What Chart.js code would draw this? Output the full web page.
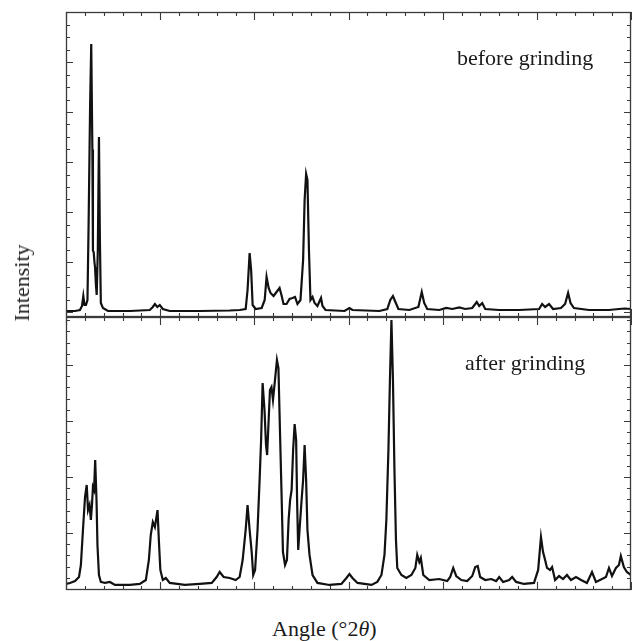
<!DOCTYPE html>
<html>
<head>
<meta charset="utf-8">
<script src="https://cdn.jsdelivr.net/npm/chart.js@4/dist/chart.umd.min.js"></script>
<style>
  html, body { margin: 0; padding: 0; background: #fff; }
  #wrap { position: relative; width: 632px; height: 641px; overflow: hidden; background: #fff; }
  canvas { position: absolute; left: 0; }
  .lbl { position: absolute; font-family: "Liberation Serif", "Times New Roman", serif; font-size: 22px; color: #1a1a1a; white-space: nowrap; line-height: 1; }
</style>
</head>
<body>
<div id="wrap">
  <canvas id="cTop" width="632" height="330" style="top:0px"></canvas>
  <canvas id="cBot" width="632" height="300" style="top:300px"></canvas>
  <div class="lbl" id="tBefore" style="left:457px; top:47px;">before grinding</div>
  <div class="lbl" id="tAfter" style="left:465px; top:352px;">after grinding</div>
  <div class="lbl" id="tX" style="left:272px; top:618px;">Angle (°2<i>θ</i>)</div>
  <div class="lbl" id="tY" style="left:22px; top:283px; transform: translate(-50%,-50%) rotate(-90deg);">Intensity</div>
</div>
<script>
// ---- data (angle in °2θ, intensity in arbitrary units) ----
const angleBefore = [5.00,5.48,5.74,5.85,5.92,5.98,6.06,6.14,6.20,6.28,6.34,6.40,6.43,6.47,6.51,6.54,6.59,6.63,6.69,6.75,6.80,6.85,6.96,7.23,8.39,9.45,9.61,9.72,9.85,9.98,10.14,10.51,12.10,13.69,14.22,14.54,14.64,14.75,14.83,14.91,15.07,15.39,15.55,15.65,15.76,15.86,16.02,16.18,16.34,16.44,16.55,16.71,16.87,17.03,17.16,17.29,17.45,17.59,17.67,17.75,17.82,17.90,17.98,18.09,18.20,18.35,18.54,18.62,18.78,19.79,20.05,20.21,21.64,22.06,22.22,22.36,22.49,22.65,23.23,23.71,23.89,24.02,24.18,24.82,25.19,25.51,25.88,26.20,26.57,26.81,26.94,27.10,27.26,28.00,29.06,30.12,30.28,30.44,30.65,30.86,31.28,31.50,31.66,31.79,31.97,32.77,33.83,34.36,34.68,35.00];
const intensityBefore = [0.08,0.08,0.16,0.48,1.28,0.56,0.56,0.96,7.0,16.5,21.44,13.0,4.9,4.8,4.0,3.6,2.16,1.36,4.96,14.0,5.76,0.72,0.32,0.08,0.08,0.16,0.40,0.64,0.40,0.56,0.24,0.08,0.08,0.12,0.16,0.24,1.76,4.72,3.36,0.56,0.24,0.32,0.96,2.80,1.92,1.52,1.28,1.60,1.92,1.36,0.64,0.64,1.04,1.12,1.20,0.64,0.96,4.16,8.96,11.04,10.56,4.96,0.96,1.20,0.72,0.48,1.12,0.48,0.16,0.08,0.32,0.16,0.08,0.24,0.96,1.28,0.80,0.24,0.16,0.40,1.60,0.72,0.24,0.16,0.32,0.24,0.36,0.24,0.32,0.80,0.48,0.72,0.24,0.16,0.16,0.24,0.64,0.40,0.64,0.24,0.32,0.64,1.52,0.72,0.32,0.16,0.16,0.24,0.28,0.24];

const angleAfter = [5.00,5.21,5.48,5.69,5.79,5.90,6.01,6.10,6.17,6.25,6.32,6.38,6.43,6.49,6.55,6.62,6.67,6.75,6.85,7.07,7.33,7.60,8.39,8.92,9.24,9.40,9.50,9.61,9.72,9.86,9.93,10.01,10.14,10.30,10.51,11.31,12.10,12.74,13.00,13.16,13.37,13.69,14.01,14.22,14.38,14.54,14.64,14.75,14.86,14.94,15.04,15.17,15.28,15.36,15.44,15.54,15.62,15.68,15.76,15.83,15.91,15.99,16.07,16.20,16.28,16.36,16.44,16.52,16.63,16.73,16.82,16.90,16.98,17.06,17.14,17.22,17.27,17.33,17.40,17.51,17.59,17.67,17.75,17.82,17.93,18.09,18.35,18.99,19.62,19.89,20.05,20.21,20.48,21.22,21.53,21.75,21.91,22.01,22.12,22.20,22.28,22.36,22.44,22.52,22.59,22.81,23.07,23.34,23.55,23.65,23.76,23.84,23.97,24.29,24.82,25.24,25.40,25.56,25.72,25.99,26.30,26.57,26.73,26.86,26.99,27.26,27.58,27.84,28.00,28.21,28.53,28.69,28.90,29.32,29.85,30.07,30.22,30.33,30.44,30.54,30.70,30.81,30.97,31.18,31.39,31.60,31.81,32.08,32.35,32.66,32.93,33.14,33.46,33.67,33.83,33.99,34.20,34.36,34.46,34.62,34.78,35.00];
const intensityAfter = [0.45,0.54,0.71,1.07,2.14,5.27,8.21,9.29,7.05,7.50,6.16,7.50,9.11,8.84,11.52,7.95,3.93,1.25,0.63,0.54,0.63,0.36,0.36,0.45,0.80,2.59,4.82,5.98,5.54,7.05,4.38,1.70,0.80,0.98,0.54,0.36,0.45,0.54,1.07,1.52,1.07,0.98,0.80,1.07,2.59,5.27,7.50,5.27,3.30,1.25,1.70,5.27,9.73,13.30,18.39,15.98,12.86,11.96,15.09,17.77,18.04,16.88,18.21,20.45,19.73,14.20,8.84,3.30,2.14,2.59,6.16,7.95,8.84,12.41,14.73,13.30,7.95,3.48,5.27,7.95,9.73,12.86,9.73,5.27,3.04,1.25,0.54,0.36,0.45,0.98,1.34,0.98,0.54,0.36,0.63,1.25,3.04,6.16,12.41,18.66,24.02,18.66,10.63,4.38,1.88,1.25,0.98,1.25,1.88,3.04,2.41,2.77,1.25,0.80,0.89,0.71,1.07,1.88,1.16,0.80,0.71,1.16,1.96,2.05,1.07,0.80,0.89,0.71,1.07,0.63,0.80,1.07,0.63,0.45,0.54,1.70,4.64,3.30,2.59,1.88,1.70,1.96,0.80,1.16,0.89,1.25,0.80,1.07,0.80,0.54,1.52,0.63,0.89,1.07,1.88,1.16,1.88,2.14,2.95,1.96,1.52,1.25];

// axis ranges and tick steps
const xRange = [5, 35];
const xMinorStep = 1, xMajorStep = 5;
const yRangeBefore = [-0.4, 24];
const yRangeAfter = [-0.09, 24.29];
const yMajorBefore = 4, yMajorAfter = 5;

const frameColor = '#3a3a3a';

function framePlugin(yMajor) {
  return {
    id: 'frameTicks',
    afterDatasetsDraw(chart) {
      const ctx = chart.ctx;
      const a = chart.chartArea;
      const xs = chart.scales.x, ys = chart.scales.y;
      ctx.save();
      ctx.strokeStyle = frameColor;
      ctx.lineWidth = 1.3;
      ctx.strokeRect(a.left + 0.5, a.top + 0.5, a.right - a.left - 1, a.bottom - a.top - 1);
      ctx.lineWidth = 1.1;
      ctx.beginPath();
      for (let v = xRange[0]; v <= xRange[1] + 1e-9; v += xMinorStep) {
        const px = Math.round(xs.getPixelForValue(v)) + 0.5;
        const len = (Math.abs(v % xMajorStep) < 1e-9) ? 8 : 4;
        ctx.moveTo(px, a.bottom); ctx.lineTo(px, a.bottom - len);
        ctx.moveTo(px, a.top); ctx.lineTo(px, a.top + len);
      }
      for (let v = Math.ceil(ys.min); v <= Math.floor(ys.max); v += 1) {
        const py = Math.round(ys.getPixelForValue(v)) + 0.5;
        const len = (v % yMajor === 0) ? 7 : 4;
        ctx.moveTo(a.left, py); ctx.lineTo(a.left + len, py);
        ctx.moveTo(a.right, py); ctx.lineTo(a.right - len, py);
      }
      ctx.stroke();
      ctx.restore();
    }
  };
}

function makeChart(id, xs, ys, yRange, yMajor, pad) {
  return new Chart(document.getElementById(id), {
    type: 'line',
    data: {
      datasets: [{
        data: xs.map((x, i) => ({ x: x, y: ys[i] })),
        borderColor: '#111',
        borderWidth: 2.2,
        pointRadius: 0,
        tension: 0,
        fill: false
      }]
    },
    options: {
      responsive: false,
      animation: false,
      events: [],
      layout: { padding: pad },
      scales: {
        x: { type: 'linear', min: xRange[0], max: xRange[1], display: false },
        y: { type: 'linear', min: yRange[0], max: yRange[1], display: false }
      },
      plugins: { legend: { display: false }, tooltip: { enabled: false } }
    },
    plugins: [framePlugin(yMajor)]
  });
}

makeChart('cTop', angleBefore, intensityBefore, yRangeBefore, yMajorBefore, { left: 66, right: 1, top: 12, bottom: 13 });
makeChart('cBot', angleAfter, intensityAfter, yRangeAfter, yMajorAfter, { left: 66, right: 1, top: 17, bottom: 10 });
</script>
</body>
</html>
